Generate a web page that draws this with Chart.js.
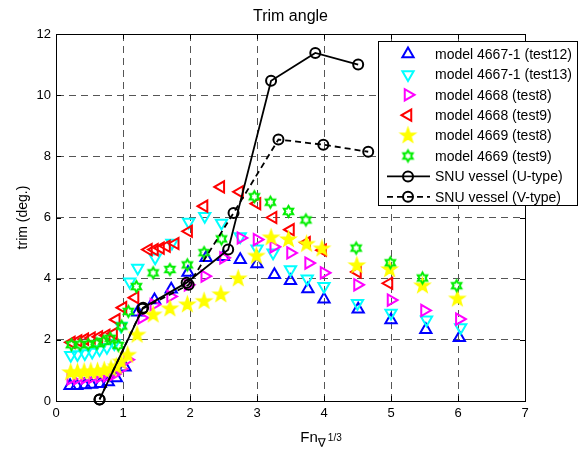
<!DOCTYPE html>
<html>
<head>
<meta charset="utf-8">
<script src="https://cdn.jsdelivr.net/npm/chart.js@4.4.1/dist/chart.umd.min.js"></script>
<style>
body { margin: 0; background: #fff; }
</style>
</head>
<body>
<canvas id="myChart" width="581" height="450"></canvas>
<script>
// tick values
var xTicks = [0, 1, 2, 3, 4, 5, 6, 7];
var yTicks = [0, 2, 4, 6, 8, 10, 12];

// model 4667-1 (test12)
var fn4667t12 = [0.21, 0.31, 0.43, 0.53, 0.66, 0.78, 0.90, 1.03, 1.22, 1.47, 1.72, 1.97, 2.24, 2.5, 2.75, 3.0, 3.26, 3.5, 3.76, 4.0, 4.51, 5.0, 5.52, 6.02];
var trim4667t12 = [0.5, 0.5, 0.52, 0.54, 0.56, 0.62, 0.75, 1.1, 2.9, 3.3, 3.65, 4.2, 4.68, 4.72, 4.62, 4.48, 4.13, 3.93, 3.66, 3.33, 3.0, 2.65, 2.33, 2.07];

// model 4667-1 (test13)
var fn4667t13 = [0.22, 0.32, 0.43, 0.54, 0.65, 0.76, 0.87, 0.97, 1.1, 1.22, 1.48, 1.73, 1.98, 2.22, 2.47, 2.75, 3.0, 3.24, 3.5, 3.75, 4.0, 4.5, 5.0, 5.53, 6.04];
var trim4667t13 = [1.5, 1.52, 1.55, 1.6, 1.68, 1.76, 1.88, 2.45, 3.9, 4.35, 4.68, 5.17, 5.85, 6.04, 5.82, 5.38, 4.98, 4.85, 4.3, 4.0, 3.75, 3.2, 2.88, 2.66, 2.4];

// model 4668 (test8)
var fn4668t8 = [0.22, 0.32, 0.43, 0.54, 0.65, 0.76, 0.87, 0.97, 1.07, 1.28, 1.46, 1.71, 1.97, 2.22, 2.5, 2.76, 3.0, 3.25, 3.5, 3.77, 4.0, 4.5, 5.0, 5.5, 6.02];
var trim4668t8 = [0.72, 0.73, 0.75, 0.77, 0.79, 0.82, 0.88, 1.05, 1.35, 2.72, 3.15, 3.42, 3.8, 4.08, 4.68, 5.33, 5.28, 5.04, 4.84, 4.51, 4.19, 3.8, 3.3, 2.96, 2.68];

// model 4668 (test9)
var fn4668t9 = [0.23, 0.33, 0.43, 0.53, 0.64, 0.75, 0.86, 0.9, 1.0, 1.18, 1.38, 1.47, 1.56, 1.65, 1.78, 1.98, 2.21, 2.46, 2.74, 3.0, 3.24, 3.5, 3.74, 3.98, 4.5, 4.97];
var trim4668t9 = [1.92, 1.97, 2.02, 2.06, 2.1, 2.15, 2.2, 2.66, 3.05, 3.38, 4.95, 4.95, 5.0, 5.06, 5.15, 5.55, 6.37, 7.0, 6.84, 6.45, 6.0, 5.6, 5.18, 4.93, 4.22, 3.85];

// model 4669 (test8)
var fn4669t8 = [0.22, 0.32, 0.42, 0.52, 0.62, 0.72, 0.82, 0.9, 0.97, 1.07, 1.21, 1.45, 1.7, 1.96, 2.21, 2.46, 2.72, 2.99, 3.21, 3.47, 3.74, 3.97, 4.49, 4.98, 5.47, 5.99];
var trim4669t8 = [0.93, 0.94, 0.95, 0.96, 0.97, 1.0, 1.05, 1.12, 1.28, 1.5, 2.16, 2.82, 3.02, 3.15, 3.26, 3.48, 4.0, 4.74, 5.34, 5.28, 5.13, 4.98, 4.43, 4.3, 3.77, 3.34];

// model 4669 (test9)
var fn4669t9 = [0.23, 0.36, 0.48, 0.61, 0.71, 0.81, 0.93, 0.98, 1.08, 1.2, 1.45, 1.7, 1.96, 2.21, 2.47, 2.96, 3.2, 3.47, 3.73, 4.48, 4.99, 5.47, 5.98];
var trim4669t9 = [1.84, 1.84, 1.85, 1.88, 1.95, 2.05, 1.82, 2.45, 2.93, 3.74, 4.19, 4.3, 4.45, 4.85, 5.3, 6.68, 6.5, 6.2, 5.92, 5.0, 4.52, 4.02, 3.77];

// SNU vessel
var fnSnuU = [0.65, 1.3, 1.95, 2.57, 3.21, 3.87, 4.51];
var trimSnuU = [0.05, 3.05, 3.87, 4.95, 10.47, 11.38, 11.0];
var fnSnuV = [0.65, 1.29, 1.98, 2.65, 3.32, 3.99, 4.66];
var trimSnuV = [0.05, 3.02, 3.8, 6.15, 8.55, 8.38, 8.15];

var FONT = '"Liberation Sans", Arial, Helvetica, sans-serif';

function pairs(xs, ys) {
    var out = [];
    for (var i = 0; i < xs.length; i++) out.push({x: xs[i], y: ys[i]});
    return out;
}

// star shaped markers (pentagram / hexagram) as small canvases
function starMarker(n, outer, inner, color, lw, filled) {
    var size = Math.ceil(2 * (outer + lw + 1));
    var c = document.createElement('canvas');
    c.width = size; c.height = size;
    var g = c.getContext('2d');
    g.translate(size / 2, size / 2);
    g.beginPath();
    for (var i = 0; i < 2 * n; i++) {
        var r = i % 2 ? inner : outer;
        var a = -Math.PI / 2 + i * Math.PI / n;
        if (i == 0) g.moveTo(r * Math.cos(a), r * Math.sin(a));
        else g.lineTo(r * Math.cos(a), r * Math.sin(a));
    }
    g.closePath();
    g.lineJoin = 'miter';
    g.strokeStyle = color;
    g.lineWidth = lw;
    if (filled) { g.fillStyle = color; g.fill(); }
    g.stroke();
    return c;
}

var pentagram = starMarker(5, 7.5, 3.0, '#ffff00', 1.6, true);
var hexagram = starMarker(6, 5.4, 3.1, '#00ee00', 2, false);

function markerSet(label, xs, ys, color, style, rot, order) {
    return {
        label: label,
        data: pairs(xs, ys),
        showLine: false,
        pointStyle: style,
        pointRotation: rot,
        pointRadius: 6.5,
        pointHoverRadius: 6.5,
        pointBorderWidth: 2,
        pointBorderColor: color,
        pointBackgroundColor: 'rgba(0,0,0,0)',
        borderColor: color,
        clip: false,
        order: order
    };
}

function lineSet(label, xs, ys, dash, order) {
    return {
        label: label,
        data: pairs(xs, ys),
        showLine: true,
        borderColor: '#000',
        borderWidth: 1.8,
        borderDash: dash,
        pointStyle: 'circle',
        pointRadius: 5,
        pointHoverRadius: 5,
        pointBorderWidth: 2,
        pointBorderColor: '#000',
        pointBackgroundColor: 'rgba(0,0,0,0)',
        clip: false,
        order: order
    };
}

var datasets = [
    markerSet('model 4667-1 (test12)', fn4667t12, trim4667t12, '#0000ff', 'triangle', 0, 8),
    markerSet('model 4667-1 (test13)', fn4667t13, trim4667t13, '#00ffff', 'triangle', 180, 7),
    markerSet('model 4668 (test8)', fn4668t8, trim4668t8, '#ff00ff', 'triangle', 90, 6),
    markerSet('model 4668 (test9)', fn4668t9, trim4668t9, '#ff0000', 'triangle', 270, 5),
    markerSet('model 4669 (test8)', fn4669t8, trim4669t8, '#ffff00', pentagram, 0, 4),
    markerSet('model 4669 (test9)', fn4669t9, trim4669t9, '#00ee00', hexagram, 0, 3),
    lineSet('SNU vessel (U-type)', fnSnuU, trimSnuU, [], 2),
    lineSet('SNU vessel (V-type)', fnSnuV, trimSnuV, [6, 4], 1)
];

function drawLegendMark(ctx, ds, x, y) {
    var st = ds.pointStyle;
    ctx.save();
    ctx.strokeStyle = ds.pointBorderColor;
    ctx.lineWidth = ds.pointBorderWidth;
    if (typeof st === 'object') {
        ctx.drawImage(st, x - st.width / 2, y - st.height / 2);
    } else if (st === 'triangle') {
        var r = ds.pointRadius, a = ds.pointRotation * Math.PI / 180;
        ctx.beginPath();
        for (var i = 0; i < 3; i++) {
            var px = x + Math.sin(a) * r, py = y - Math.cos(a) * r;
            if (i == 0) ctx.moveTo(px, py); else ctx.lineTo(px, py);
            a += 2 * Math.PI / 3;
        }
        ctx.closePath();
        ctx.stroke();
    } else {
        // line sample with a circle in the middle
        ctx.lineWidth = ds.borderWidth;
        ctx.setLineDash(ds.borderDash);
        ctx.beginPath();
        ctx.moveTo(x - 21, y); ctx.lineTo(x + 22, y);
        ctx.stroke();
        ctx.setLineDash([]);
        ctx.lineWidth = ds.pointBorderWidth;
        ctx.beginPath();
        ctx.arc(x, y, ds.pointRadius, 0, 2 * Math.PI);
        ctx.stroke();
    }
    ctx.restore();
}

var decorations = {
    id: 'decorations',
    afterDraw: function(chart) {
        var ctx = chart.ctx, a = chart.chartArea;
        var xs = chart.scales.x, ys = chart.scales.y;
        ctx.save();

        // axes box and inward ticks
        ctx.strokeStyle = '#000';
        ctx.lineWidth = 1;
        ctx.strokeRect(Math.round(a.left) + 0.5, Math.round(a.top) + 0.5,
            Math.round(a.right - a.left), Math.round(a.bottom - a.top));
        ctx.beginPath();
        xTicks.forEach(function(v) {
            var px = Math.round(xs.getPixelForValue(v)) + 0.5;
            ctx.moveTo(px, a.bottom); ctx.lineTo(px, a.bottom - 5);
            ctx.moveTo(px, a.top); ctx.lineTo(px, a.top + 5);
        });
        yTicks.forEach(function(v) {
            var py = Math.round(ys.getPixelForValue(v)) + 0.5;
            ctx.moveTo(a.left, py); ctx.lineTo(a.left + 5, py);
            ctx.moveTo(a.right, py); ctx.lineTo(a.right - 5, py);
        });
        ctx.stroke();

        // title
        ctx.fillStyle = '#000';
        ctx.textAlign = 'center';
        ctx.textBaseline = 'middle';
        ctx.font = '16px ' + FONT;
        ctx.fillText('Trim angle', (a.left + a.right) / 2, 17);

        // y label
        ctx.save();
        ctx.translate(23, (a.top + a.bottom) / 2);
        ctx.rotate(-Math.PI / 2);
        ctx.font = '14px ' + FONT;
        ctx.fillText('trim (deg.)', 0, 0);
        ctx.restore();

        // x label: Fn with subscript nabla and 1/3
        ctx.textAlign = 'left';
        ctx.textBaseline = 'alphabetic';
        ctx.font = '15px ' + FONT;
        var w1 = ctx.measureText('Fn').width;
        ctx.font = '12px "DejaVu Sans", sans-serif';
        var w2 = ctx.measureText('\u2207').width;
        ctx.font = '10px ' + FONT;
        var w3 = ctx.measureText('1/3').width;
        var x0 = 321 - (w1 + w2 + w3 + 2) / 2;
        ctx.font = '15px ' + FONT;
        ctx.fillText('Fn', x0, 442);
        ctx.font = '12px "DejaVu Sans", sans-serif';
        ctx.fillText('\u2207', x0 + w1, 447);
        ctx.font = '10px ' + FONT;
        ctx.fillText('1/3', x0 + w1 + w2 + 2, 441);

        // legend
        var lx = 378.5, ly = 41.5, lw = 199, lh = 164;
        ctx.fillStyle = '#fff';
        ctx.fillRect(lx, ly, lw, lh);
        ctx.strokeStyle = '#000';
        ctx.lineWidth = 1;
        ctx.strokeRect(lx, ly, lw, lh);
        ctx.font = '14px ' + FONT;
        ctx.textBaseline = 'middle';
        chart.data.datasets.forEach(function(ds, i) {
            var ry = 54 + i * 20.4;
            drawLegendMark(ctx, ds, 408, ry);
            ctx.fillStyle = '#000';
            ctx.fillText(ds.label, 435, ry + 1);
        });
        ctx.restore();
    }
};

var ctx = document.getElementById('myChart').getContext('2d');
var chart = new Chart(ctx, {
    type: 'scatter',
    data: { datasets: datasets },
    options: {
        responsive: false,
        animation: false,
        layout: { padding: { top: 34, right: 56, left: 0, bottom: 0 } },
        plugins: { legend: { display: false }, tooltip: { enabled: false } },
        scales: {
            x: {
                type: 'linear',
                min: xTicks[0], max: xTicks[xTicks.length - 1],
                afterBuildTicks: function(s) { s.ticks = xTicks.map(function(v) { return {value: v}; }); },
                afterFit: function(s) { s.height = 49; },
                grid: { color: '#555', drawTicks: false },
                border: { color: '#000', dash: [7, 5] },
                ticks: { color: '#000', padding: 5, font: { size: 13, family: FONT } }
            },
            y: {
                type: 'linear',
                min: yTicks[0], max: yTicks[yTicks.length - 1],
                afterBuildTicks: function(s) { s.ticks = yTicks.map(function(v) { return {value: v}; }); },
                afterFit: function(s) { s.width = 56; },
                grid: { color: '#555', drawTicks: false },
                border: { color: '#000', dash: [7, 5] },
                ticks: { color: '#000', padding: 5, font: { size: 13, family: FONT } }
            }
        }
    },
    plugins: [decorations]
});
</script>
</body>
</html>
